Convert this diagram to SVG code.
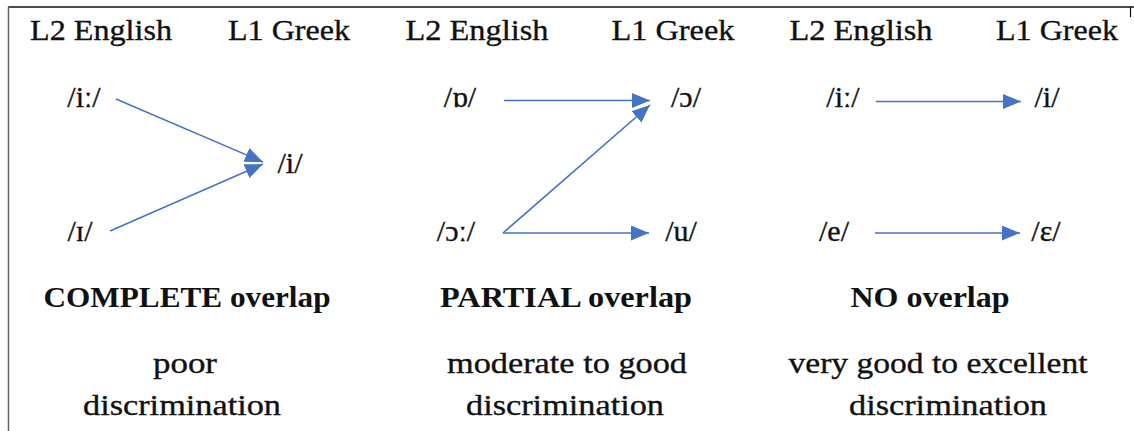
<svg xmlns="http://www.w3.org/2000/svg" width="1134" height="431" viewBox="0 0 1134 431">
<defs>
<style>
.c{stroke:#4472C4;stroke-width:1.6;fill:none;marker-end:url(#ah);}
.t{stroke:#111;stroke-width:0.35;}
</style>
<marker id="ah" markerUnits="userSpaceOnUse" markerWidth="20" markerHeight="16" refX="18" refY="7.5" orient="auto">
<path d="M0,0 L18,7.5 L0,15 Z" fill="#4472C4"/>
</marker>
</defs>
<rect width="1134" height="431" fill="#fff"/>
<g id="frame">
<line x1="8" y1="7" x2="1134" y2="7" stroke="#111" stroke-width="1.5"/>
<line x1="8.5" y1="7" x2="8.5" y2="431" stroke="#666" stroke-width="1.5"/>
<line x1="1130.5" y1="7" x2="1130.5" y2="17" stroke="#111" stroke-width="1.2"/>
</g>
<g id="headers">
<text class="t" font-family="Liberation Serif" font-size="30" fill="#111" text-anchor="middle" x="101" y="40" textLength="142" lengthAdjust="spacingAndGlyphs">L2 English</text>
<text class="t" font-family="Liberation Serif" font-size="30" fill="#111" text-anchor="middle" x="289" y="40" textLength="122" lengthAdjust="spacingAndGlyphs">L1 Greek</text>
<text class="t" font-family="Liberation Serif" font-size="30" fill="#111" text-anchor="middle" x="477" y="40" textLength="143" lengthAdjust="spacingAndGlyphs">L2 English</text>
<text class="t" font-family="Liberation Serif" font-size="30" fill="#111" text-anchor="middle" x="673" y="40" textLength="123" lengthAdjust="spacingAndGlyphs">L1 Greek</text>
<text class="t" font-family="Liberation Serif" font-size="30" fill="#111" text-anchor="middle" x="861" y="40" textLength="143" lengthAdjust="spacingAndGlyphs">L2 English</text>
<text class="t" font-family="Liberation Serif" font-size="30" fill="#111" text-anchor="middle" x="1057" y="40" textLength="122" lengthAdjust="spacingAndGlyphs">L1 Greek</text>
</g>
<g id="node-complete-ii">
<text class="t" font-family="Liberation Serif" font-size="30" fill="#111" text-anchor="middle" x="84" y="107">/iː/</text>
</g>
<g id="node-complete-I">
<text class="t" font-family="Liberation Serif" font-size="30" fill="#111" text-anchor="middle" x="80" y="241">/ɪ/</text>
</g>
<g id="node-complete-i">
<text class="t" font-family="Liberation Serif" font-size="30" fill="#111" text-anchor="middle" x="290" y="173">/i/</text>
</g>
<g id="node-partial-o">
<text class="t" font-family="Liberation Serif" font-size="30" fill="#111" text-anchor="middle" x="460" y="107">/ɒ/</text>
</g>
<g id="node-partial-oo">
<text class="t" font-family="Liberation Serif" font-size="30" fill="#111" text-anchor="middle" x="456" y="241">/ɔː/</text>
</g>
<g id="node-partial-greek-o">
<text class="t" font-family="Liberation Serif" font-size="30" fill="#111" text-anchor="middle" x="686" y="107">/ɔ/</text>
</g>
<g id="node-partial-u">
<text class="t" font-family="Liberation Serif" font-size="30" fill="#111" text-anchor="middle" x="681" y="241">/u/</text>
</g>
<g id="node-no-ii">
<text class="t" font-family="Liberation Serif" font-size="30" fill="#111" text-anchor="middle" x="843" y="107">/iː/</text>
</g>
<g id="node-no-i">
<text class="t" font-family="Liberation Serif" font-size="30" fill="#111" text-anchor="middle" x="1047" y="107">/i/</text>
</g>
<g id="node-no-e">
<text class="t" font-family="Liberation Serif" font-size="30" fill="#111" text-anchor="middle" x="834" y="241">/e/</text>
</g>
<g id="node-no-eps">
<text class="t" font-family="Liberation Serif" font-size="30" fill="#111" text-anchor="middle" x="1046" y="241">/ɛ/</text>
</g>
<g id="label-complete">
<text font-family="Liberation Serif" font-size="30" font-weight="bold" fill="#111" text-anchor="middle" x="187" y="307" textLength="287" lengthAdjust="spacingAndGlyphs">COMPLETE overlap</text>
<text class="t" font-family="Liberation Serif" font-size="30" fill="#111" text-anchor="middle" x="185" y="373" textLength="64" lengthAdjust="spacingAndGlyphs">poor</text>
<text class="t" font-family="Liberation Serif" font-size="30" fill="#111" text-anchor="middle" x="182" y="415" textLength="198" lengthAdjust="spacingAndGlyphs">discrimination</text>
</g>
<g id="label-partial">
<text font-family="Liberation Serif" font-size="30" font-weight="bold" fill="#111" text-anchor="middle" x="566" y="307" textLength="252" lengthAdjust="spacingAndGlyphs">PARTIAL overlap</text>
<text class="t" font-family="Liberation Serif" font-size="30" fill="#111" text-anchor="middle" x="567" y="373" textLength="240" lengthAdjust="spacingAndGlyphs">moderate to good</text>
<text class="t" font-family="Liberation Serif" font-size="30" fill="#111" text-anchor="middle" x="565" y="415" textLength="198" lengthAdjust="spacingAndGlyphs">discrimination</text>
</g>
<g id="label-no">
<text font-family="Liberation Serif" font-size="30" font-weight="bold" fill="#111" text-anchor="middle" x="930" y="307" textLength="159" lengthAdjust="spacingAndGlyphs">NO overlap</text>
<text class="t" font-family="Liberation Serif" font-size="30" fill="#111" text-anchor="middle" x="938" y="373" textLength="299" lengthAdjust="spacingAndGlyphs">very good to excellent</text>
<text class="t" font-family="Liberation Serif" font-size="30" fill="#111" text-anchor="middle" x="948" y="415" textLength="198" lengthAdjust="spacingAndGlyphs">discrimination</text>
</g>
<g id="connectors">
<line class="c" x1="116" y1="99" x2="263" y2="162"/>
<line class="c" x1="110" y1="231" x2="263" y2="164"/>
<line class="c" x1="504" y1="100.5" x2="650" y2="100.5"/>
<line class="c" x1="503" y1="233" x2="650" y2="105"/>
<line class="c" x1="503" y1="233" x2="649" y2="233"/>
<line class="c" x1="876" y1="101.5" x2="1021" y2="101.5"/>
<line class="c" x1="875" y1="233" x2="1020" y2="233"/>
</g>
</svg>
